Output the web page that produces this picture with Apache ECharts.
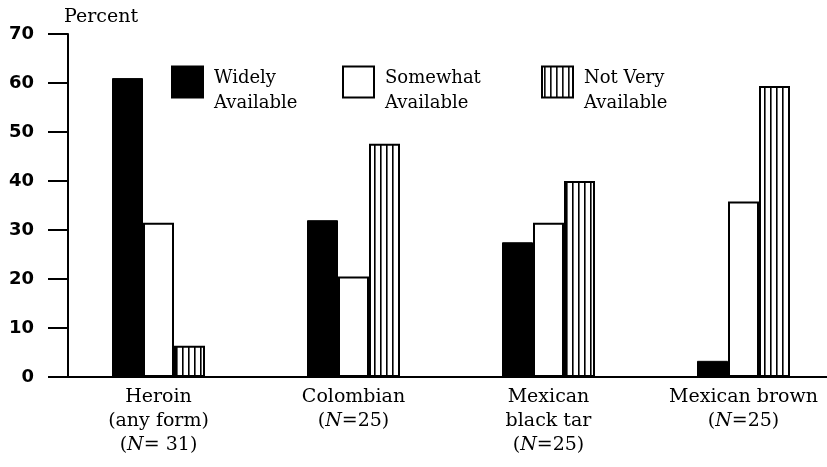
<!DOCTYPE html>
<html>
<head>
<meta charset="utf-8">
<script src="https://cdn.jsdelivr.net/npm/echarts@6/dist/echarts.min.js"></script>
<style>
html,body{margin:0;padding:0;background:#fff;}
#chart{width:827px;height:467px;}
</style>
</head>
<body>
<div id="chart"></div>
<script>
// ---- data ----
var categories = ['Heroin\n(any form)', 'Colombian', 'Mexican\nblack tar', 'Mexican brown'];
var sampleLabels = ['(N= 31)', '(N=25)', '(N=25)', '(N=25)'];
var seriesNames = ['Widely Available', 'Somewhat Available', 'Not Very Available'];
var legendLines = [['Widely', 'Available'], ['Somewhat', 'Available'], ['Not Very', 'Available']];
var widelyAvailable = [61, 32, 27.5, 3.3];
var somewhatAvailable = [31.5, 20.5, 31.5, 35.8];
var notVeryAvailable = [6.4, 47.6, 40, 59.4];
var yTicks = [0, 10, 20, 30, 40, 50, 60, 70];

// vertical stripe pattern
var pc = document.createElement('canvas');
pc.width = 6; pc.height = 8;
var pctx = pc.getContext('2d');
pctx.fillStyle = '#fff'; pctx.fillRect(0, 0, 6, 8);
pctx.fillStyle = '#000'; pctx.fillRect(2, 0, 1.6, 8);
var stripe = { image: pc, repeat: 'repeat' };

var serif = 'DejaVu Serif';
var chart = echarts.init(document.getElementById('chart'), null, { renderer: 'canvas' });

function legendAt(idx, left) {
  return {
    show: true,
    left: left, top: 56,
    padding: 0,
    orient: 'horizontal',
    icon: 'rect',
    itemWidth: 31, itemHeight: 31,
    selectedMode: false,
    data: [seriesNames[idx]],
    formatter: function () {
      return '{s| }\n{a|' + legendLines[idx][0] + '}\n{a|' + legendLines[idx][1] + '}';
    },
    textStyle: {
      fontFamily: serif, fontSize: 18, color: '#000',
      rich: {
        s: { fontSize: 2, lineHeight: 18 },
        a: { fontFamily: serif, fontSize: 18, lineHeight: 25, color: '#000', padding: [0, 0, 0, 6] }
      }
    }
  };
}

var option = {
  animation: false,
  backgroundColor: '#fff',
  grid: { left: 61, top: 34, bottom: 90, width: 780, containLabel: false, outerBoundsMode: 'none' },
  legend: [legendAt(0, 171), legendAt(1, 342), legendAt(2, 541)],
  xAxis: {
    type: 'category',
    data: categories,
    axisLine: { lineStyle: { color: '#000', width: 2 } },
    axisTick: { show: false },
    axisLabel: {
      interval: 0,
      hideOverlap: false,
      margin: 8,
      fontFamily: serif, fontSize: 19, lineHeight: 24, color: '#000',
      formatter: function (v, i) {
        return v + '\n' + sampleLabels[i].replace('N', '{i|N}');
      },
      rich: { i: { fontFamily: serif, fontStyle: 'italic', fontSize: 19, lineHeight: 24, color: '#000' } }
    }
  },
  yAxis: {
    type: 'value',
    min: yTicks[0], max: yTicks[yTicks.length - 1], interval: 10,
    offset: -7,
    name: 'Percent',
    nameLocation: 'end',
    nameGap: 7,
    nameTextStyle: { fontFamily: serif, fontSize: 19, color: '#000', align: 'left', verticalAlign: 'bottom', padding: [0, 0, 0, -4] },
    axisLine: { show: true, lineStyle: { color: '#000', width: 2 } },
    axisTick: { show: true, inside: false, length: 20, lineStyle: { color: '#000', width: 2 } },
    axisLabel: { margin: 34, fontFamily: 'DejaVu Sans', fontWeight: 'bold', fontSize: 18, color: '#000' },
    splitLine: { show: false }
  },
  series: [
    {
      name: seriesNames[0], type: 'bar', data: widelyAvailable,
      barWidth: 31, barGap: '0%',
      itemStyle: { color: '#000', borderColor: '#000', borderWidth: 1 }
    },
    {
      name: seriesNames[1], type: 'bar', data: somewhatAvailable,
      barWidth: 31, barGap: '0%',
      itemStyle: { color: '#fff', borderColor: '#000', borderWidth: 2 }
    },
    {
      name: seriesNames[2], type: 'bar', data: notVeryAvailable,
      barWidth: 31, barGap: '0%',
      itemStyle: { color: stripe, borderColor: '#000', borderWidth: 2 }
    }
  ]
};
chart.setOption(option);
</script>
</body>
</html>
